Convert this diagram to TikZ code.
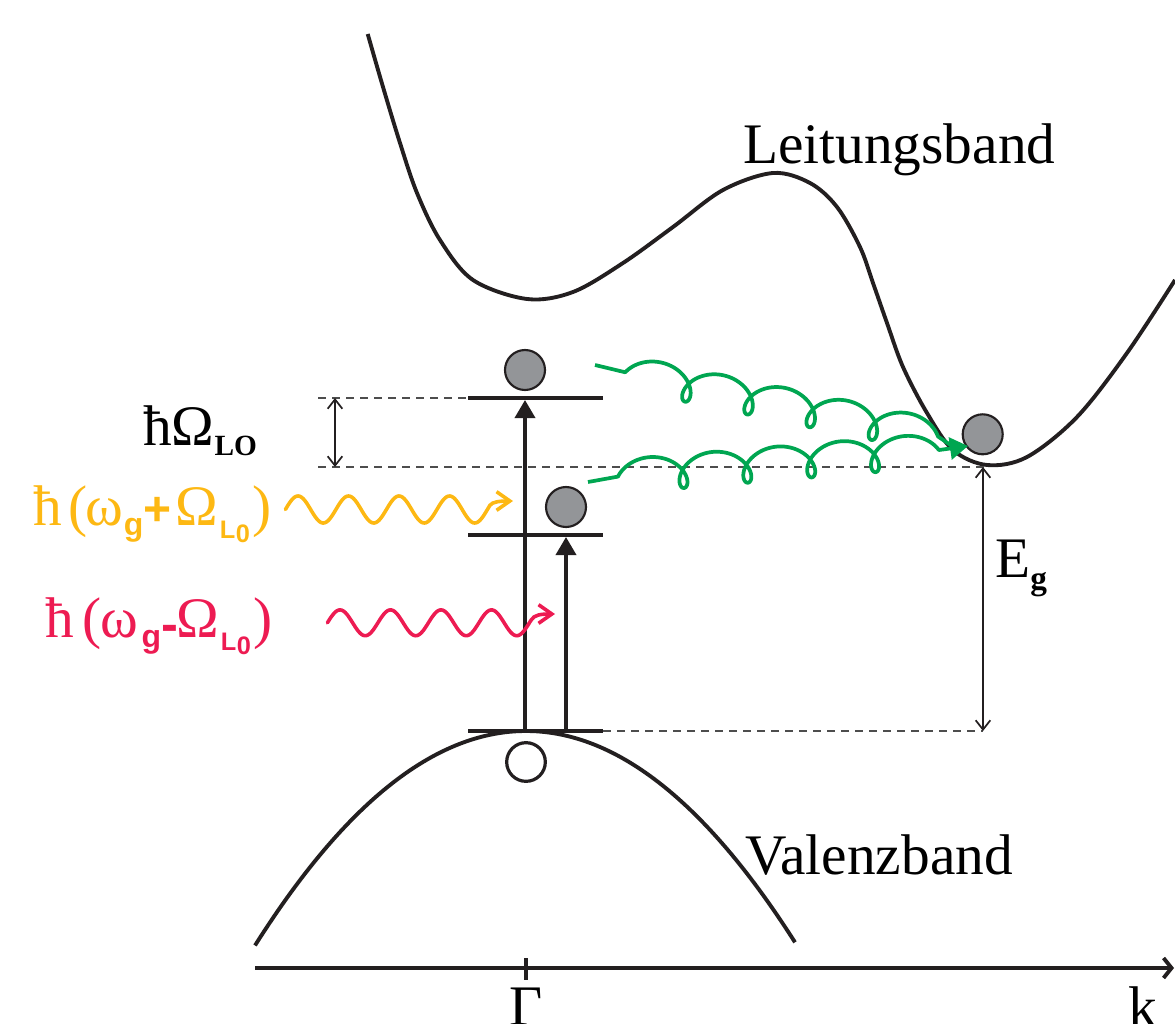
\documentclass[tikz,border=0pt]{standalone}
\usepackage{fontspec}
\setmainfont{Liberation Serif}
\newfontfamily\sansf{Liberation Sans}
\usetikzlibrary{arrows.meta}
\definecolor{ink}{HTML}{231F20}
\definecolor{phyel}{HTML}{FDB813}
\definecolor{phred}{HTML}{ED1B52}
\definecolor{phgreen}{HTML}{00A651}
\definecolor{ballgray}{HTML}{939598}
\definecolor{dashgray}{HTML}{4D4D4D}
\newcommand{\subsans}[3]{\raisebox{#1}{\sansf\bfseries\fontsize{#2}{#2}\selectfont #3}}
\begin{document}
\begin{tikzpicture}[x=0.75pt,y=-0.75pt,
  band/.style={ink, line width=2.9pt},
  level/.style={ink, line width=2.9pt},
  trans/.style={ink, line width=2.7pt, -{Triangle[length=13.5pt,width=15pt]}},
  guide/.style={dashgray, line width=1.4pt, dash pattern=on 6pt off 4.5pt},
  dimarrow/.style={ink, line width=1.3pt, {Straight Barb[length=7pt,width=11pt]}-{Straight Barb[length=7pt,width=11pt]}},
  electron/.style={circle, draw=ink, fill=ballgray, line width=1.6pt, minimum size=30pt, inner sep=0pt},
  hole/.style={circle, draw=ink, fill=white, line width=2.4pt, minimum size=29pt, inner sep=0pt},
  photon/.style={line width=2.7pt, line cap=round, -{Straight Barb[length=10pt,width=14pt]}},
  phonon/.style={phgreen, line width=2.8pt, line join=round},
  lbl/.style={inner sep=0pt, anchor=base west, font=\fontsize{43}{50}\selectfont},
]
\useasboundingbox (0,0) rectangle (1175,1024);

% conduction band
\draw[band] plot[smooth, tension=0.55] coordinates {
 (367.7,34) (383,87) (400,143) (417,193) (440,240) (473,280) (527,299)
 (573,292) (623,263) (673,227) (723,190) (773,173) (810,183) (837,207)
 (860,247) (873,283) (887,323) (903,367) (927,413) (953,450) (987,465)
 (1027,457) (1077,417) (1127,353) (1175,280)};
% valence band
\draw[band] plot[domain=255:795, samples=120] (\x, {731 + 29.2*((\x-526)/100)^2});

% axis
\coordinate (ax0) at (255,968);
\coordinate (ax1) at (1174,968);
\coordinate (tk0) at (526,958);
\coordinate (tk1) at (526,980);
\draw[band, -{Straight Barb[length=6pt,width=15pt]}] (ax0) -- (ax1);
\draw[band] (tk0) -- (tk1);

% guide lines
\coordinate (g1a) at (318,398); \coordinate (g1b) at (468,398);
\coordinate (g2a) at (318,467); \coordinate (g2b) at (985,467);
\coordinate (g3a) at (603,731); \coordinate (g3b) at (983,731);
\draw[guide] (g1a) -- (g1b);
\draw[guide] (g2a) -- (g2b);
\draw[guide] (g3a) -- (g3b);

% dimension arrows
\coordinate (d1a) at (335,398); \coordinate (d1b) at (335,467);
\coordinate (d2a) at (983,467); \coordinate (d2b) at (983,731);
\draw[dimarrow] (d1a) -- (d1b);
\draw[dimarrow] (d2a) -- (d2b);

% levels
\coordinate (L1a) at (468,398); \coordinate (L1b) at (603,398);
\coordinate (L2a) at (468,535); \coordinate (L2b) at (603,535);
\coordinate (L0a) at (468,731); \coordinate (L0b) at (603,731);
\draw[level] (L1a) -- (L1b);
\draw[level] (L2a) -- (L2b);
\draw[level] (L0a) -- (L0b);

% transitions
\coordinate (t1s) at (525,731); \coordinate (t1e) at (525,400);
\coordinate (t2s) at (566,731); \coordinate (t2e) at (566,537);
\draw[trans] (t1s) -- (t1e);
\draw[trans] (t2s) -- (t2e);

% carriers
\node[electron] (e1) at (525,370) {};
\node[electron] (e2) at (566,507) {};
\node[electron] (e3) at (982.7,434.3) {};
\node[hole] (h1) at (526,762) {};

% photons
\coordinate (py) at (513,501);
\coordinate (pr) at (555,614);
\draw[photon, phyel] plot[domain=285.4:490, samples=160] (\x, {509.5 - 13.5*sin((\x-285.4)/50.5*360)})
   .. controls (492.5,501.8) and (500,501) .. (py);
\draw[photon, phred] plot[domain=327.4:531, samples=160] (\x, {622.8 - 12.9*sin((\x-327.4)/50.5*360)})
   .. controls (534,614.5) and (542,614) .. (pr);

% phonon cascades
\coordinate (ph1s) at (595,365);
\coordinate (ph1e) at (952,446);
\coordinate (ph2s) at (588,482);
\coordinate (ph2e) at (968,446);
\draw[phonon] (ph1s) -- plot[domain=-4.712:23.562, samples=400, variable=\t]
  ({685 + (10.1*\t - 16.8*sin(\t r))*0.9796 + (16.8-16.8*cos(\t r))*0.2011},
   {401.7 + (10.1*\t - 16.8*sin(\t r))*0.2011 - (16.8-16.8*cos(\t r))*0.9796}) -- (ph1e);
\draw[phonon, -{Triangle[length=13.5pt,width=16.5pt]}] (ph2s) -- plot[domain=-4.712:23.562, samples=400, variable=\t]
  ({684 + (10.2*\t - 16.8*sin(\t r))*0.9966 - (16.8-16.8*cos(\t r))*0.0825},
   {488 - (10.2*\t - 16.8*sin(\t r))*0.0825 - (16.8-16.8*cos(\t r))*0.9966}) -- (ph2e);

% labels
\node[lbl] (lb) at (743,163) {Leitungsband};
\node[lbl] (vb) at (745,874) {Valenzband};
\node[lbl] (hlo) at (143,445) {ħΩ\raisebox{-8pt}{\fontsize{22}{24}\selectfont\bfseries LO}};
\node[lbl, text=phyel] (lyel) at (33,525) {\makebox[26.25pt][l]{ħ}\makebox[12.75pt][l]{(}\makebox[29pt][l]{ω}\makebox[15pt][l]{\subsans{-8pt}{24}{g}}\makebox[23.5pt][l]{\subsans{0pt}{36}{+}}\makebox[33.5pt][l]{Ω}\makebox[12pt][l]{\subsans{-10pt}{19}{L}}\makebox[12.5pt][l]{\subsans{-13pt}{19}{0}})};
\node[lbl, text=phred] (lred) at (45,637) {\makebox[27.75pt][l]{ħ}\makebox[13.5pt][l]{(}\makebox[31pt][l]{ω}\makebox[15pt][l]{\subsans{-8pt}{24}{g}}\makebox[11pt][l]{\subsans{-3.5pt}{38}{-}}\makebox[33.5pt][l]{Ω}\makebox[12pt][l]{\subsans{-10pt}{19}{L}}\makebox[12.5pt][l]{\subsans{-13pt}{19}{0}})};
\node[lbl] (eg) at (995,577) {E\raisebox{-9pt}{\fontsize{25}{26}\selectfont\bfseries g}};
\node[inner sep=0pt, anchor=base, font=\fontsize{43}{50}\selectfont] (gam) at (526,1025) {Γ};
\node[lbl] (kk) at (1128,1026) {k};
\end{tikzpicture}
\end{document}
